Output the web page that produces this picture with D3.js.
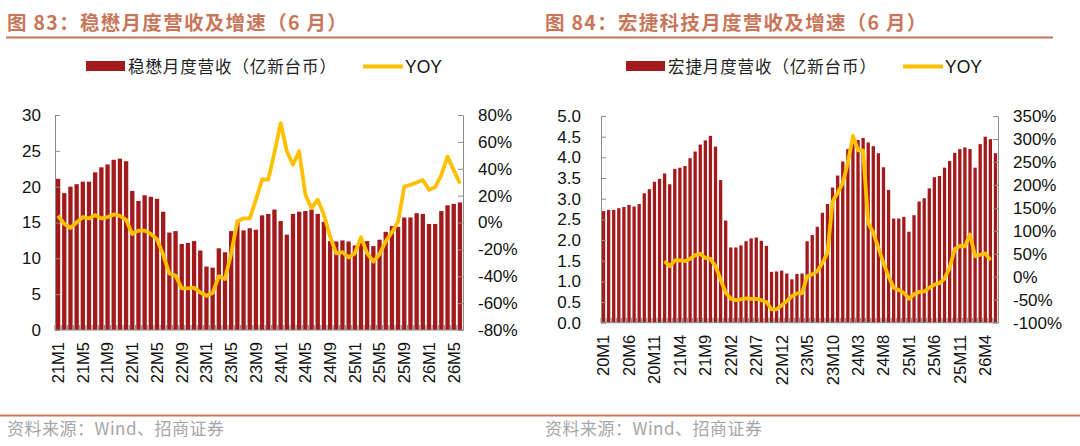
<!DOCTYPE html>
<html>
<head>
<meta charset="utf-8">
<script src="https://cdn.jsdelivr.net/npm/d3@7"></script>
<style>
  body { margin: 0; background: #fff; }
  .num { font-family: "Liberation Sans", Arial, sans-serif; }
  .cjk { font-family: "Noto Sans CJK SC", sans-serif; }
</style>
</head>
<body>
<svg id="chart" width="1080" height="446"></svg>
<script>
// ---- data: 稳懋 (21M1 - 26M6)
const winStart = [21, 1];
const winRevenue = [
  21.1, 19.1, 20.0, 20.35, 20.7, 20.7, 22.0, 22.7, 23.1, 23.75, 23.9, 23.55,
  19.4, 18.0, 18.8, 18.6, 18.3, 16.5, 13.6, 13.8, 12.0, 12.15, 12.4, 11.1,
  8.85, 8.7, 11.4, 10.85, 13.8, 15.1, 13.9, 14.2, 14.0, 16.0, 16.2, 16.8,
  15.2, 13.3, 16.2, 16.5, 16.6, 16.8, 16.2, 15.1, 12.4, 12.35, 12.5, 12.35,
  11.8, 12.35, 12.4, 11.7, 12.6, 13.7, 14.5, 14.4, 15.7, 15.7, 16.3, 16.2,
  14.8, 14.8, 16.6, 17.4, 17.6, 17.8
];
const winYoy = [
  5, -1, -4, 0, 4, 3, 5.5, 3, 4, 6, 5, 2,
  -8.5, -6, -6, -8.5, -12.5, -24, -38, -39.5, -49, -49, -48.5, -52,
  -54.5, -52.5, -40, -42, -23, 1, 3, 3, 17, 32, 32, 52,
  74, 53, 43, 53, 20.6, 10.7, 17, 5.7, -10.4, -23, -22, -26,
  -23, -11, -23, -29, -23.6, -14, -7.4, 0.7, 26.8, 28, 29.7, 31.7,
  24.3, 26.3, 35.5, 49, 39, 29
];
const winTicks = ["21M1", "21M5", "21M9", "22M1", "22M5", "22M9", "23M1", "23M5", "23M9",
  "24M1", "24M5", "24M9", "25M1", "25M5", "25M9", "26M1", "26M5"];
const winLeftTicks = [0, 5, 10, 15, 20, 25, 30];
const winRightTicks = [-80, -60, -40, -20, 0, 20, 40, 60, 80];

// ---- data: 宏捷科技 (20M1 - 26M6), YOY from 21M1
const awscStart = [20, 1];
const awscRevenue = [
  2.70, 2.73, 2.73, 2.77, 2.80, 2.85, 2.81, 2.87, 3.13, 3.23, 3.41, 3.48,
  3.61, 3.35, 3.72, 3.75, 3.79, 3.98, 4.14, 4.31, 4.41, 4.52, 4.26, 3.45,
  2.47, 1.82, 1.82, 1.87, 1.97, 2.04, 2.06, 1.98, 1.86, 1.23, 1.24, 1.26,
  1.19, 1.05, 1.18, 1.19, 1.97, 2.12, 2.32, 2.66, 2.87, 3.27, 3.56, 3.90,
  4.20, 4.40, 4.42, 4.47, 4.36, 4.27, 4.10, 3.76, 3.21, 2.52, 2.52, 2.56,
  2.20, 2.60, 2.93, 3.01, 3.25, 3.52, 3.55, 3.75, 3.91, 4.11, 4.20, 4.24,
  4.20, 3.75, 4.32, 4.50, 4.44, 4.10
];
const awscYoyStart = 12;
const awscYoy = [
  34, 23, 35.5, 35.5, 34, 39, 47, 50, 41, 39, 23, -6,
  -35, -48, -51, -49, -47, -48, -48, -51, -55, -71, -71, -62,
  -53, -42, -36, -36, 1, 5, 12, 30, 52, 164, 183, 204,
  248, 307, 275, 275, 117, 96, 63, 30, 1, -24, -29, -35,
  -48, -38, -33, -32, -24, -17, -14, -4, 20, 60, 67, 66,
  92, 45, 48, 51, 36
];
const awscTicks = ["20M1", "20M6", "20M11", "21M4", "21M9", "22M2", "22M7", "22M12", "23M5",
  "23M10", "24M3", "24M8", "25M1", "25M6", "25M11", "26M4"];
const awscLeftTicks = [0, 0.5, 1, 1.5, 2, 2.5, 3, 3.5, 4, 4.5, 5];
const awscRightTicks = [-100, -50, 0, 50, 100, 150, 200, 250, 300, 350];

const barColor = "#a31a1c";
const lineColor = "#ffc000";
const axisColor = "#8c8c8c";
const accent = "#c8765a";

function months(start, n) {
  const out = [];
  let [y, m] = start;
  for (let i = 0; i < n; i++) {
    out.push(`${y}M${m}`);
    m++;
    if (m > 12) { m = 1; y++; }
  }
  return out;
}

const svg = d3.select("#chart");
svg.append("rect").attr("width", 1080).attr("height", 446).attr("fill", "#fff");

function drawChart(c) {
  const cats = months(c.start, c.revenue.length);
  const g = svg.append("g");

  // title + legend
  g.append("text").attr("class", "cjk")
    .attr("x", c.titleX).attr("y", 30)
    .attr("font-size", 19.5).attr("font-weight", "bold").attr("fill", accent)
    .attr("letter-spacing", 1.3).text(c.title);

  g.append("rect").attr("x", c.legendX).attr("y", 61).attr("width", 39).attr("height", 10)
    .attr("fill", barColor);
  g.append("text").attr("class", "cjk").attr("x", c.legendX + 42).attr("y", 72.5)
    .attr("font-size", 16.5).attr("fill", "#222").attr("letter-spacing", 0.9).text(c.legend);
  g.append("line").attr("x1", c.legendX + 277).attr("x2", c.legendX + 317)
    .attr("y1", 66.5).attr("y2", 66.5).attr("stroke", lineColor).attr("stroke-width", 4);
  g.append("text").attr("class", "num").attr("x", c.legendX + 319).attr("y", 73)
    .attr("font-size", 17.5).attr("fill", "#111").text("YOY");

  // scales
  const x = d3.scaleBand().domain(cats).range([c.left, c.right])
    .paddingInner(c.pad).paddingOuter(c.pad / 2);
  const y = d3.scaleLinear().domain(c.yDomain).range([c.bottom, c.top]);
  const y2 = d3.scaleLinear().domain(c.y2Domain).range([c.bottom, c.top]);

  // bars
  g.append("g").selectAll("rect").data(c.revenue).join("rect")
    .attr("x", (d, i) => x(cats[i]))
    .attr("width", x.bandwidth())
    .attr("y", d => y(d))
    .attr("height", d => y(0) - y(d))
    .attr("fill", barColor);

  // bottom axis with inward ticks at band edges
  const gap = (x.step() - x.bandwidth()) / 2;
  const bottom = g.append("g");
  bottom.append("line").attr("x1", c.left).attr("x2", c.right)
    .attr("y1", c.bottom).attr("y2", c.bottom).attr("stroke", axisColor);
  bottom.selectAll("line.tk").data(cats).join("line").attr("class", "tk")
    .attr("x1", d => x(d) - gap).attr("x2", d => x(d) - gap)
    .attr("y1", c.bottom).attr("y2", c.bottom - 5)
    .attr("stroke", axisColor).attr("stroke-width", 1.2);
  bottom.selectAll("text").data(c.ticks).join("text").attr("class", "num")
    .attr("transform", d => `translate(${x(d) + x.bandwidth() / 2},${c.bottom + 12}) rotate(-90)`)
    .attr("text-anchor", "end").attr("dy", "0.36em")
    .attr("font-size", 16.5).attr("fill", "#111").text(d => d);

  // left axis
  const yAxis = d3.axisLeft(y).tickValues(c.leftTicks).tickFormat(c.leftFmt)
    .tickSizeInner(-5).tickSizeOuter(0).tickPadding(c.leftPad);
  const ga = g.append("g").attr("transform", `translate(${c.left},0)`).call(yAxis);
  // right axis
  const y2Axis = d3.axisRight(y2).tickValues(c.rightTicks).tickFormat(d => d + "%")
    .tickSizeInner(-5).tickSizeOuter(0).tickPadding(15);
  const gb = g.append("g").attr("transform", `translate(${c.right},0)`).call(y2Axis);
  [ga, gb].forEach(a => {
    a.select(".domain").attr("stroke", axisColor);
    a.selectAll(".tick line").attr("stroke", axisColor);
    a.selectAll(".tick text").attr("class", "num").attr("font-size", 17).attr("fill", "#111");
  });

  // yoy line
  const line = d3.line()
    .x((d, i) => x(cats[i + c.yoyStart]) + x.bandwidth() / 2)
    .y(d => y2(d));
  g.append("path").datum(c.yoy).attr("d", line)
    .attr("fill", "none").attr("stroke", lineColor).attr("stroke-width", 3.8)
    .attr("stroke-linejoin", "round");

  // footer
  g.append("text").attr("class", "cjk").attr("x", c.titleX).attr("y", 435)
    .attr("font-size", 17).attr("fill", "#a6a6a6").attr("letter-spacing", 0.5)
    .text("资料来源：Wind、招商证券");
}

drawChart({
  title: "图 83：稳懋月度营收及增速（6 月）", titleX: 7, legendX: 86,
  legend: "稳懋月度营收（亿新台币）",
  start: winStart, revenue: winRevenue, yoy: winYoy, yoyStart: 0, ticks: winTicks,
  left: 55, right: 463, top: 115, bottom: 330, pad: 0.3,
  yDomain: [0, 30], leftTicks: winLeftTicks, leftFmt: d3.format("d"), leftPad: 14,
  y2Domain: [-80, 80], rightTicks: winRightTicks
});

drawChart({
  title: "图 84：宏捷科技月度营收及增速（6 月）", titleX: 545, legendX: 626,
  legend: "宏捷月度营收（亿新台币）",
  start: awscStart, revenue: awscRevenue, yoy: awscYoy, yoyStart: awscYoyStart, ticks: awscTicks,
  left: 601, right: 998, top: 116, bottom: 322.7, pad: 0.35,
  yDomain: [0, 5], leftTicks: awscLeftTicks, leftFmt: d3.format(".1f"), leftPad: 20,
  y2Domain: [-100, 350], rightTicks: awscRightTicks
});

// rules under the titles and above the source lines
svg.append("line").attr("x1", 6).attr("x2", 1053).attr("y1", 37.5).attr("y2", 37.5)
  .attr("stroke", accent).attr("stroke-width", 2);
svg.append("line").attr("x1", 0).attr("x2", 1080).attr("y1", 415.5).attr("y2", 415.5)
  .attr("stroke", accent).attr("stroke-width", 2);
</script>
</body>
</html>
